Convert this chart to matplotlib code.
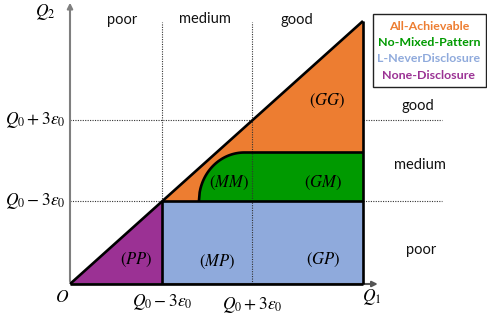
import numpy as np
import matplotlib
matplotlib.use("Agg")
import matplotlib.pyplot as plt
from matplotlib.patches import Polygon, Rectangle

plt.rcParams['mathtext.fontset'] = 'stix'

# key levels of the diagram (origin = 0, Q1 = 10)
q_lo = 3.15       # Q0 - 3eps0
q_hi = 6.22       # Q0 + 3eps0
q1 = 10.0         # Q1
green_top = 5.0   # top of the no-mixed band
arc_x0 = 4.4      # where the rounded corner starts
arc_x1 = 5.95     # where it meets green_top

region_names = ['(PP)', '(MP)', '(GP)', '(MM)', '(GM)', '(GG)']
region_xy = [(2.25, 0.91), (5.02, 0.84), (8.63, 0.91), (5.43, 3.84), (8.63, 3.84), (8.77, 6.96)]

legend_names = ['All-Achievable', 'No-Mixed-Pattern', 'L-NeverDisclosure', 'None-Disclosure']
c_orange = '#ED7D31'
c_green = '#009A00'
c_blue = '#8FAADC'
c_purple = '#9B3194'
legend_colors = [c_orange, c_green, c_blue, c_purple]

fig = plt.figure(figsize=(4.87, 3.16), dpi=100)
ax = fig.add_axes([0, 0, 1, 1])
ax.set_xlim(-70 / 29.3, (487 - 70) / 29.3)
ax.set_ylim(-(316 - 284) / 26.3, 284 / 26.3)
ax.axis('off')

# axes arrows
ax.annotate('', xy=(0, 10.8), xytext=(0, 0),
            arrowprops=dict(arrowstyle='-|>', color='#7f7f7f', lw=1.5, mutation_scale=8))
ax.annotate('', xy=(10.6, 0), xytext=(0, 0),
            arrowprops=dict(arrowstyle='-|>', color='#555555', lw=1.5, mutation_scale=8))

# dotted guides behind fills
dot = dict(color='#333333', lw=0.8, ls=(0, (1, 1.2)))
ax.plot([q_lo, q_lo], [q_lo, 9.95], **dot, zorder=1)
ax.plot([0, 12.7], [q_hi, q_hi], **dot, zorder=1)
ax.plot([0, q_lo], [q_lo, q_lo], **dot, zorder=1)
ax.plot([q1, 12.7], [q_lo, q_lo], **dot, zorder=1)

# fills
ax.add_patch(Polygon([(0, 0), (q_lo, q_lo), (q_lo, 0)], closed=True, fc=c_purple, ec='none', zorder=2))
ax.add_patch(Rectangle((q_lo, 0), q1 - q_lo, q_lo, fc=c_blue, ec='none', zorder=2))
ax.add_patch(Polygon([(q_lo, q_lo), (q1, q1), (q1, q_lo)], closed=True, fc=c_orange, ec='none', zorder=2))

t = np.linspace(0, 1, 60)
arc_x = arc_x0 + (arc_x1 - arc_x0) * t
arc_y = q_lo + (green_top - q_lo) * np.sqrt(np.clip(1 - ((arc_x1 - arc_x) / (arc_x1 - arc_x0)) ** 2, 0, 1))
green_pts = list(zip(arc_x, arc_y)) + [(q1, green_top), (q1, q_lo)]
ax.add_patch(Polygon(green_pts, closed=True, fc=c_green, ec='none', zorder=3))

# vertical dotted line over the fills
ax.plot([q_hi, q_hi], [0, 9.95], **dot, zorder=4)

# black outlines
blk = dict(color='black', lw=1.9, solid_capstyle='butt', zorder=5)
ax.plot([0, q1], [0, q1], **blk)
ax.plot([q1, q1], [0, q1], **blk)
ax.plot([q_lo, q1], [q_lo, q_lo], **blk)
ax.plot([q_lo, q_lo], [0, q_lo], **blk)
ax.plot([0, q1], [0, 0], **blk)
ax.plot(list(arc_x) + [q1], list(arc_y) + [green_top], **blk)

# region labels
for name, (x, y) in zip(region_names, region_xy):
    ax.text(x, y, '$' + name + '$', ha='center', va='center', fontsize=12, zorder=6)

# axis labels
mfs = 12.5
ax.text(-0.17, q_hi, r'$Q_0+3\varepsilon_0$', ha='right', va='center', fontsize=mfs)
ax.text(-0.17, q_lo, r'$Q_0-3\varepsilon_0$', ha='right', va='center', fontsize=mfs)
ax.text(q_lo, -0.68, r'$Q_0-3\varepsilon_0$', ha='center', va='center', fontsize=mfs)
ax.text(q_hi, -0.8, r'$Q_0+3\varepsilon_0$', ha='center', va='center', fontsize=mfs)
ax.text(-0.27, -0.49, r'$O$', ha='center', va='center', fontsize=mfs)
ax.text(10.3, -0.49, r'$Q_1$', ha='center', va='center', fontsize=mfs)
ax.text(-0.85, 10.34, r'$Q_2$', ha='center', va='center', fontsize=mfs)

# category labels
cat = dict(ha='center', va='center', fontsize=10.5, family='Lato', color='#111111')
ax.text(1.77, 10.04, 'poor', **cat)
ax.text(4.61, 10.08, 'medium', **cat)
ax.text(7.75, 10.04, 'good', **cat)
ax.text(11.88, 6.77, 'good', **cat)
ax.text(11.95, 4.52, 'medium', **cat)
ax.text(11.98, 1.29, 'poor', **cat)

# legend box
ax.add_patch(Rectangle((10.34, 7.49), 14.2 - 10.34, 10.27 - 7.49, fc='white', ec='#222222', lw=1.0, zorder=6))
leg_y = [(284 - py) / 26.3 for py in (27, 43, 59, 76)]
for name, col, y in zip(legend_names, legend_colors, leg_y):
    ax.text(12.25, y, name, ha='center', va='center', fontsize=8.9, family='Lato',
            weight='bold', color=col, zorder=7)

fig.savefig('out.png', dpi=100)
